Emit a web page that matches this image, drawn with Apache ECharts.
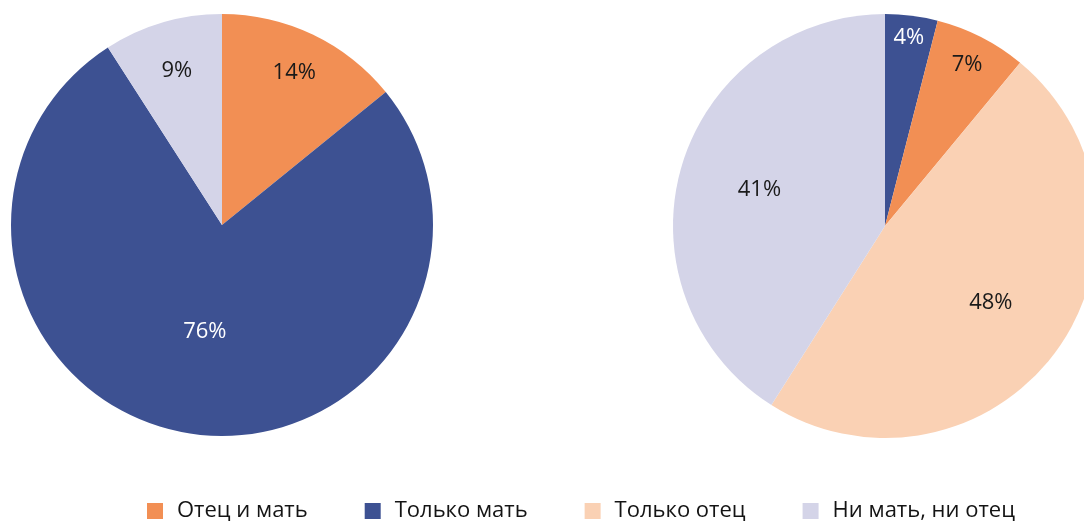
<!DOCTYPE html>
<html>
<head>
<meta charset="utf-8">
<script src="https://cdn.jsdelivr.net/npm/echarts@6/dist/echarts.min.js"></script>
<style>
  html, body { margin: 0; padding: 0; background: #fff; }
  #chart { width: 1084px; height: 521px; }
</style>
</head>
<body>
<div id="chart"></div>
<script>
  const categories = ["Отец и мать", "Только мать", "Только отец", "Ни мать, ни отец"]
  const colors = {
    "Отец и мать": "#F28F54",
    "Только мать": "#3D5192",
    "Только отец": "#FAD1B4",
    "Ни мать, ни отец": "#D4D4E8",
  }
  // left pie, clockwise from 12 o'clock
  const leftNames = ["Отец и мать", "Только мать", "Ни мать, ни отец"]
  const leftValues = [14, 76, 9]
  // right pie, clockwise from 12 o'clock
  const rightNames = ["Только мать", "Отец и мать", "Только отец", "Ни мать, ни отец"]
  const rightValues = [4, 7, 48, 41]

  // radial push of each label (1 = middle of radius)
  const leftLabelPush = [1.55, 1.0, 1.48]
  const rightLabelPush = [1.74, 1.66, 1.2, 1.2]

  const pies = [
    { center: [222, 225], radius: 211, names: leftNames, values: leftValues, push: leftLabelPush },
    { center: [885, 226], radius: 212, names: rightNames, values: rightValues, push: rightLabelPush },
  ]

  const font = "'Open Sans', 'Noto Sans', sans-serif"

  const options = {
    animation: false,
    legend: {
      data: categories,
      bottom: -6,
      left: 142,
      icon: "rect",
      itemWidth: 16,
      itemHeight: 16,
      itemGap: 57,
      textStyle: {
        fontFamily: font,
        fontSize: 22,
        color: "#141414",
        padding: [0, 0, 0, 9],
      },
    },
    series: pies.map((p) => ({
      type: "pie",
      center: p.center,
      radius: [0, p.radius],
      startAngle: 90,
      clockwise: true,
      silent: true,
      label: {
        show: true,
        position: "inside",
        formatter: "{c}%",
        fontFamily: font,
        fontSize: 22,
        color: "#1a1a1a",
      },
      labelLine: { show: false },
      itemStyle: { borderWidth: 0 },
      data: p.names.map((n, i) => ({
        name: n,
        value: p.values[i],
        itemStyle: { color: colors[n] },
        label: n === "Только мать" ? { color: "#fff" } : {},
      })),
      labelLayout: (params) => {
        const r = params.labelRect
        const cx = r.x + r.width / 2
        const cy = r.y + r.height / 2
        const k = p.push[params.dataIndex] - 1
        return { dx: (cx - p.center[0]) * k, dy: (cy - p.center[1]) * k }
      },
    })),
  }

  let myChart = echarts.init(document.getElementById("chart"))
  myChart.setOption(options)
</script>
</body>
</html>
